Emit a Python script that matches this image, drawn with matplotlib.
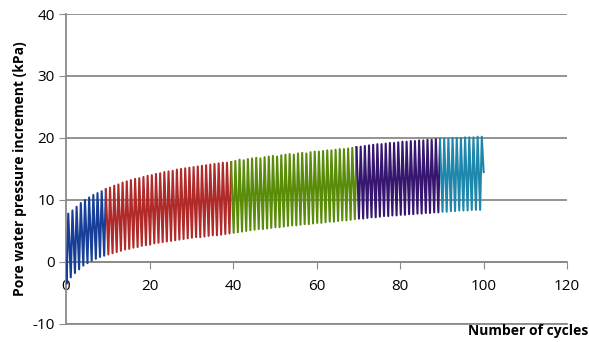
import matplotlib
matplotlib.use("Agg")
import numpy as np
import matplotlib.pyplot as plt

plt.rcParams['font.family'] = ['Open Sans', 'DejaVu Sans']
plt.rcParams['axes.unicode_minus'] = False

# peak / trough of pore pressure for each cycle (kPa)
blue_peaks = [7.8, 8.3, 8.9, 9.5, 10.0, 10.4, 10.8, 11.1, 11.4, 11.7]
blue_troughs = [-3.5, -2.5, -1.8, -1.2, -0.6, -0.2, 0.2, 0.5, 0.8, 1.0]

red_peaks = [12.0, 12.3, 12.5, 12.8, 13.0, 13.2, 13.4, 13.5, 13.7, 13.9,
             14.0, 14.2, 14.3, 14.5, 14.6, 14.7, 14.9, 15.0, 15.1, 15.2,
             15.3, 15.4, 15.5, 15.6, 15.7, 15.8, 15.9, 16.0, 16.0, 16.1]
red_troughs = [1.2, 1.4, 1.6, 1.8, 2.0, 2.1, 2.3, 2.4, 2.6, 2.7,
               2.8, 3.0, 3.1, 3.2, 3.3, 3.4, 3.5, 3.6, 3.7, 3.8,
               3.9, 4.0, 4.0, 4.1, 4.2, 4.3, 4.3, 4.4, 4.5, 4.6]

green_peaks = [16.3, 16.5, 16.4, 16.6, 16.7, 16.8, 16.7, 16.9, 17.0, 17.1,
               17.0, 17.2, 17.3, 17.4, 17.3, 17.5, 17.6, 17.5, 17.7, 17.8,
               17.8, 17.9, 18.0, 18.0, 18.1, 18.2, 18.2, 18.3, 18.4, 18.5]
green_troughs = [4.7, 4.8, 4.9, 5.0, 5.1, 5.2, 5.3, 5.3, 5.4, 5.5,
                 5.6, 5.6, 5.7, 5.8, 5.9, 5.9, 6.0, 6.1, 6.1, 6.2,
                 6.3, 6.3, 6.4, 6.5, 6.5, 6.6, 6.7, 6.7, 6.8, 6.9]

purple_peaks = [18.6, 18.7, 18.8, 18.9, 19.0, 19.0, 19.1, 19.2, 19.2, 19.3,
                19.4, 19.4, 19.5, 19.5, 19.6, 19.6, 19.7, 19.7, 19.8, 19.8]
purple_troughs = [7.0, 7.0, 7.1, 7.2, 7.2, 7.3, 7.4, 7.4, 7.5, 7.5,
                  7.6, 7.6, 7.7, 7.7, 7.8, 7.8, 7.9, 7.9, 8.0, 8.0]

teal_peaks = [19.9, 19.9, 20.0, 20.0, 20.0, 20.1, 20.1, 20.1, 20.2, 20.2]
teal_troughs = [8.1, 8.1, 8.2, 8.2, 8.3, 8.3, 8.3, 8.4, 8.4, 8.4]

start_value = 0.0
end_value = 14.5

segments = [
    (0, blue_peaks, blue_troughs, '#173f98'),
    (10, red_peaks, red_troughs, '#b02a2a'),
    (40, green_peaks, green_troughs, '#5a8c0a'),
    (70, purple_peaks, purple_troughs, '#36166e'),
    (90, teal_peaks, teal_troughs, '#1f86ac'),
]

fig = plt.figure(figsize=(5.89, 3.42), dpi=100)
ax = fig.add_axes([0.112, 0.053, 0.851, 0.906])

prev = (0.0, start_value)
for first, peaks, troughs, color in segments:
    xs = [prev[0]]
    ys = [prev[1]]
    for k, (p, t) in enumerate(zip(peaks, troughs)):
        c = first + k
        xs += [c + 0.15, c + 0.55]
        ys += [t, p]
    if first == 90:
        xs.append(100)
        ys.append(end_value)
    ax.plot(xs, ys, color=color, lw=1.5, zorder=3)
    prev = (xs[-1], ys[-1])

ax.set_xlim(0, 120)
ax.set_ylim(-10, 40)
ax.set_xticks(np.arange(0, 121, 20))
ax.set_yticks(np.arange(-10, 41, 10))
ax.yaxis.grid(True, color='#8a8a8a', lw=1.3)
ax.set_axisbelow(True)

for s in ['top', 'right']:
    ax.spines[s].set_visible(False)
ax.spines['bottom'].set_position(('data', 0))
ax.spines['bottom'].set_color('#8a8a8a')
ax.spines['bottom'].set_linewidth(1.3)
ax.spines['left'].set_color('#8a8a8a')
ax.spines['left'].set_linewidth(1.3)
ax.axhline(-10, color='#8a8a8a', lw=1.3, clip_on=False)

ax.tick_params(axis='x', direction='out', length=5, color='#8a8a8a',
               labelsize=11, pad=7)
ax.tick_params(axis='y', direction='out', length=5, color='#8a8a8a',
               labelsize=11, pad=3)

ax.set_ylabel('Pore water pressure increment (kPa)', fontsize=10,
              fontweight='bold', labelpad=4)
fig.text(0.998, 0.012, 'Number of cycles', fontsize=10, fontweight='bold',
         ha='right', va='bottom')

fig.savefig('out.png', dpi=100)
